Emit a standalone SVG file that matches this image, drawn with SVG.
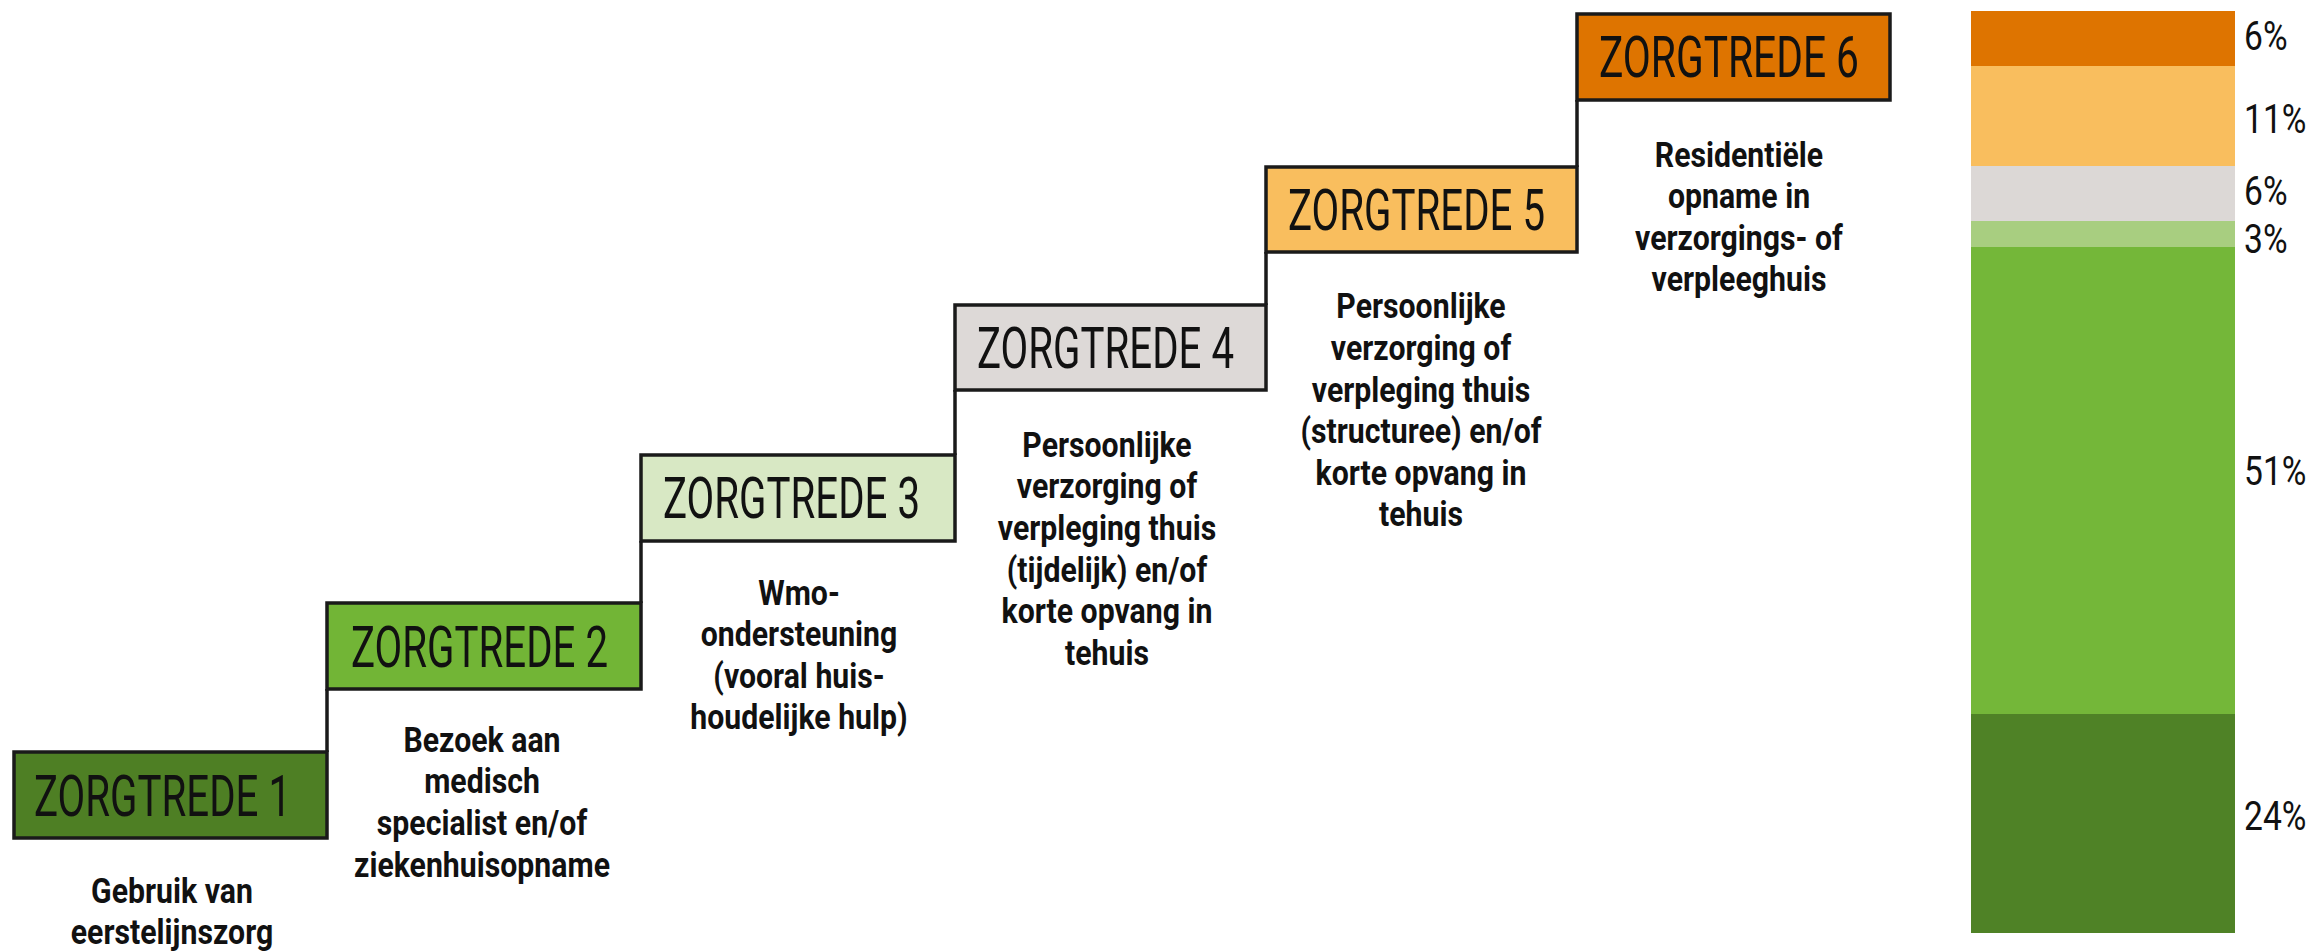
<svg xmlns="http://www.w3.org/2000/svg" width="2313" height="951" viewBox="0 0 2313 951">
<style>
.box{stroke:#1a1a1a;stroke-width:3.5}
.hd{font-family:Roboto,"Liberation Sans",sans-serif;font-size:58px;fill:#111}
.ds{font-family:Roboto,"Liberation Sans",sans-serif;font-weight:bold;font-size:36px;fill:#111;text-anchor:middle}
.pc{font-family:Roboto,"Liberation Sans",sans-serif;font-size:41px;fill:#111}
.ln{stroke:#1a1a1a;stroke-width:3.5;fill:none}
</style>
<rect width="2313" height="951" fill="#fff"/>
<g id="connectors">
<line class="ln" x1="327" y1="689" x2="327" y2="752"/>
<line class="ln" x1="641" y1="541" x2="641" y2="603"/>
<line class="ln" x1="955" y1="390" x2="955" y2="455"/>
<line class="ln" x1="1266" y1="252" x2="1266" y2="305"/>
<line class="ln" x1="1577" y1="100" x2="1577" y2="167"/>
</g>
<g id="zorgtrede1">
<rect class="box" x="14" y="752" width="313" height="86" fill="#4E7F24"/>
<text class="hd" x="34" y="816" textLength="257" lengthAdjust="spacingAndGlyphs">ZORGTREDE 1</text>
<g transform="translate(172,0) scale(0.84,1)">
<text class="ds" x="0" y="903">Gebruik van</text>
<text class="ds" x="0" y="944">eerstelijnszorg</text>
</g>
</g>
<g id="zorgtrede2">
<rect class="box" x="327" y="603" width="314" height="86" fill="#72B536"/>
<text class="hd" x="351" y="667" textLength="257" lengthAdjust="spacingAndGlyphs">ZORGTREDE 2</text>
<g transform="translate(482,0) scale(0.84,1)">
<text class="ds" x="0" y="752">Bezoek aan</text>
<text class="ds" x="0" y="793">medisch</text>
<text class="ds" x="0" y="835">specialist en/of</text>
<text class="ds" x="0" y="877">ziekenhuisopname</text>
</g>
</g>
<g id="zorgtrede3">
<rect class="box" x="641" y="455" width="314" height="86" fill="#D8E8C4"/>
<text class="hd" x="663" y="518" textLength="257" lengthAdjust="spacingAndGlyphs">ZORGTREDE 3</text>
<g transform="translate(799,0) scale(0.84,1)">
<text class="ds" x="0" y="605">Wmo-</text>
<text class="ds" x="0" y="646">ondersteuning</text>
<text class="ds" x="0" y="688">(vooral huis-</text>
<text class="ds" x="0" y="729">houdelijke hulp)</text>
</g>
</g>
<g id="zorgtrede4">
<rect class="box" x="955" y="305" width="311" height="85" fill="#DDD9D7"/>
<text class="hd" x="977" y="368" textLength="257" lengthAdjust="spacingAndGlyphs">ZORGTREDE 4</text>
<g transform="translate(1107,0) scale(0.84,1)">
<text class="ds" x="0" y="457">Persoonlijke</text>
<text class="ds" x="0" y="498">verzorging of</text>
<text class="ds" x="0" y="540">verpleging thuis</text>
<text class="ds" x="0" y="582">(tijdelijk) en/of</text>
<text class="ds" x="0" y="623">korte opvang in</text>
<text class="ds" x="0" y="665">tehuis</text>
</g>
</g>
<g id="zorgtrede5">
<rect class="box" x="1266" y="167" width="311" height="85" fill="#F9BE5E"/>
<text class="hd" x="1288" y="230" textLength="257" lengthAdjust="spacingAndGlyphs">ZORGTREDE 5</text>
<g transform="translate(1421,0) scale(0.84,1)">
<text class="ds" x="0" y="318">Persoonlijke</text>
<text class="ds" x="0" y="360">verzorging of</text>
<text class="ds" x="0" y="402">verpleging thuis</text>
<text class="ds" x="0" y="443">(structuree) en/of</text>
<text class="ds" x="0" y="485">korte opvang in</text>
<text class="ds" x="0" y="526">tehuis</text>
</g>
</g>
<g id="zorgtrede6">
<rect class="box" x="1577" y="14" width="313" height="86" fill="#DE7400"/>
<text class="hd" x="1599" y="77" textLength="260" lengthAdjust="spacingAndGlyphs">ZORGTREDE 6</text>
<g transform="translate(1739,0) scale(0.84,1)">
<text class="ds" x="0" y="167">Residentiële</text>
<text class="ds" x="0" y="208">opname in</text>
<text class="ds" x="0" y="250">verzorgings- of</text>
<text class="ds" x="0" y="291">verpleeghuis</text>
</g>
</g>
<g id="bar">
<rect x="1971" y="11" width="264" height="55" fill="#DE7400"/>
<rect x="1971" y="66" width="264" height="100" fill="#F9BE5E"/>
<rect x="1971" y="166" width="264" height="55" fill="#DCD8D6"/>
<rect x="1971" y="221" width="264" height="26" fill="#A8CE80"/>
<rect x="1971" y="247" width="264" height="467" fill="#74B739"/>
<rect x="1971" y="714" width="264" height="219" fill="#4F8226"/>
<g transform="translate(2244,0) scale(0.82,1)">
<text class="pc" x="0" y="50">6%</text>
<text class="pc" x="0" y="133">11%</text>
<text class="pc" x="0" y="205">6%</text>
<text class="pc" x="0" y="253">3%</text>
<text class="pc" x="0" y="485">51%</text>
<text class="pc" x="0" y="830">24%</text>
</g>
</g>
</svg>
